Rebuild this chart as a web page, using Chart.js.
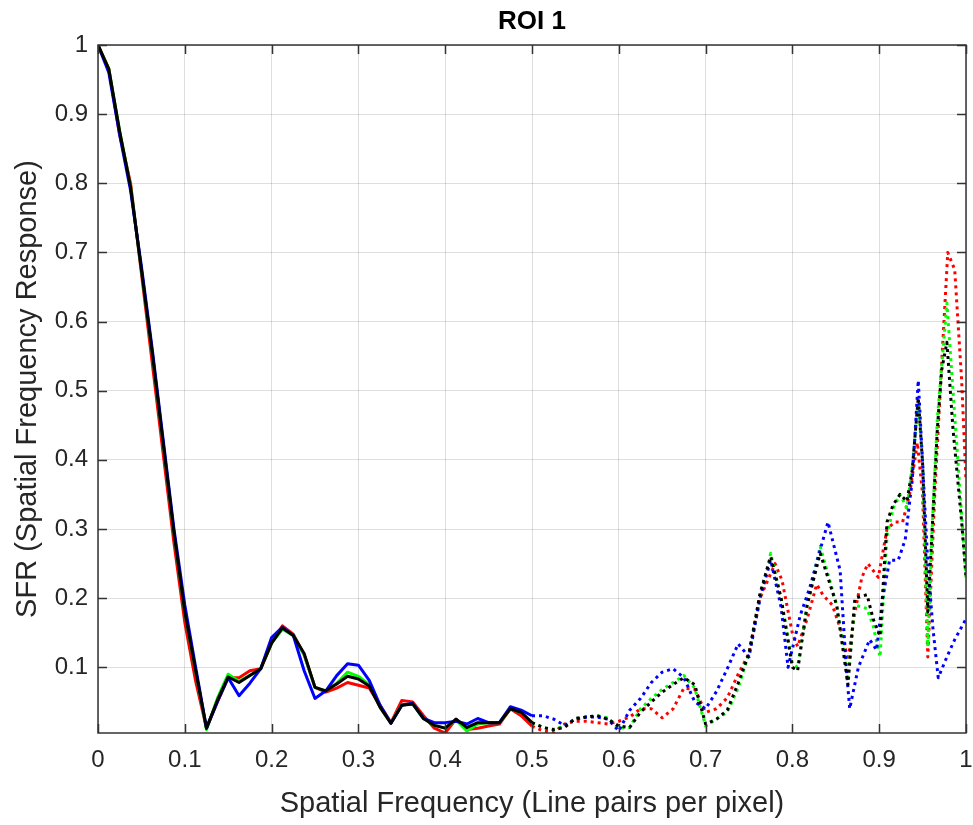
<!DOCTYPE html>
<html lang="en">
<head>
<meta charset="UTF-8">
<title>ROI 1</title>
<script src="https://cdn.jsdelivr.net/npm/chart.js"></script>
<style>
  body { margin: 0; background: #fff; }
  .wrap { width: 973px; height: 825px; }
</style>
</head>
<body>
<div class="wrap"><canvas id="sfrChart" width="973" height="825"></canvas></div>
<script>
// solid part, same frequency grid for all four curves
const solidFreq = [0, 0.0125, 0.025, 0.0375, 0.05, 0.0625, 0.075, 0.0875, 0.1, 0.1125,
  0.125, 0.1375, 0.15, 0.1625, 0.175, 0.1875, 0.2, 0.2125, 0.225, 0.2375,
  0.25, 0.2625, 0.275, 0.2875, 0.3, 0.3125, 0.325, 0.3375, 0.35, 0.3625,
  0.375, 0.3875, 0.4, 0.4125, 0.425, 0.4375, 0.45, 0.4625, 0.475, 0.4875, 0.5];

const blackSolid = [1.0, 0.965, 0.875, 0.795, 0.675, 0.555, 0.425, 0.295, 0.18, 0.095,
  0.012, 0.052, 0.086, 0.078, 0.088, 0.098, 0.135, 0.157, 0.146, 0.12,
  0.071, 0.066, 0.076, 0.087, 0.083, 0.073, 0.042, 0.019, 0.045, 0.047,
  0.026, 0.016, 0.012, 0.025, 0.013, 0.02, 0.02, 0.02, 0.04, 0.035, 0.02];
const greenSolid = [1.0, 0.965, 0.875, 0.795, 0.675, 0.555, 0.425, 0.295, 0.18, 0.095,
  0.01, 0.055, 0.09, 0.08, 0.088, 0.098, 0.135, 0.155, 0.146, 0.118,
  0.071, 0.066, 0.077, 0.093, 0.087, 0.075, 0.042, 0.02, 0.046, 0.047,
  0.026, 0.016, 0.012, 0.024, 0.008, 0.018, 0.02, 0.02, 0.04, 0.035, 0.02];
const blueSolid = [1.0, 0.96, 0.87, 0.79, 0.68, 0.56, 0.43, 0.3, 0.19, 0.1,
  0.012, 0.05, 0.085, 0.059, 0.077, 0.098, 0.143, 0.158, 0.146, 0.095,
  0.055, 0.066, 0.088, 0.105, 0.103, 0.081, 0.045, 0.019, 0.045, 0.048,
  0.026, 0.02, 0.02, 0.022, 0.018, 0.026, 0.02, 0.02, 0.043, 0.038, 0.03];
const redSolid = [1.0, 0.965, 0.87, 0.8, 0.67, 0.54, 0.41, 0.28, 0.165, 0.08,
  0.012, 0.05, 0.085, 0.085, 0.095, 0.098, 0.135, 0.16, 0.148, 0.118,
  0.071, 0.064, 0.07, 0.078, 0.074, 0.07, 0.045, 0.02, 0.052, 0.05,
  0.03, 0.012, 0.005, 0.025, 0.01, 0.012, 0.015, 0.018, 0.04, 0.03, 0.015];

// dotted part, 0.5 .. 0.75
const midFreq = [0.5125, 0.525, 0.5375, 0.55, 0.5625, 0.575, 0.5875, 0.6, 0.6125, 0.625,
  0.6375, 0.65, 0.6625, 0.675, 0.6875, 0.7, 0.7125, 0.725, 0.7375, 0.75];

const blackMid = [0.013, 0.01, 0.013, 0.026, 0.028, 0.03, 0.025, 0.015, 0.013, 0.035,
  0.05, 0.064, 0.075, 0.085, 0.075, 0.018, 0.025, 0.038, 0.077, 0.12];
const greenMid = [0.013, 0.01, 0.015, 0.026, 0.028, 0.03, 0.027, 0.012, 0.013, 0.04,
  0.055, 0.068, 0.078, 0.088, 0.07, 0.015, 0.025, 0.035, 0.07, 0.12];
const blueMid = [0.03, 0.025, 0.016, 0.025, 0.028, 0.028, 0.025, 0.008, 0.038, 0.055,
  0.078, 0.093, 0.098, 0.085, 0.05, 0.04, 0.065, 0.098, 0.134, 0.115];
const redMid = [0.008, 0.006, 0.018, 0.022, 0.022, 0.02, 0.018, 0.022, 0.028, 0.04,
  0.04, 0.027, 0.04, 0.07, 0.068, 0.035, 0.04, 0.056, 0.09, 0.12];

// dotted part, 0.75 .. 1 (curves turn fast here, so each has its own knots)
const blackTailFreq = [0.7627, 0.775, 0.787, 0.8, 0.806, 0.817, 0.832, 0.851, 0.864, 0.872,
  0.886, 0.893, 0.901, 0.909, 0.916, 0.924, 0.932, 0.938, 0.945, 0.95,
  0.956, 0.961, 0.967, 0.972, 0.978, 0.985, 0.995, 1.0];
const blackTail = [0.207, 0.26, 0.2, 0.1, 0.095, 0.19, 0.265, 0.19, 0.075, 0.2,
  0.205, 0.17, 0.145, 0.31, 0.335, 0.35, 0.34, 0.385, 0.49, 0.395,
  0.18, 0.3, 0.445, 0.53, 0.57, 0.445, 0.31, 0.23];

const greenTailFreq = [0.7627, 0.775, 0.787, 0.8, 0.806, 0.817, 0.832, 0.851, 0.864, 0.872,
  0.886, 0.893, 0.901, 0.909, 0.916, 0.924, 0.932, 0.938, 0.945, 0.95,
  0.956, 0.961, 0.967, 0.978, 0.985, 0.995, 1.0];
const greenTail = [0.2, 0.265, 0.2, 0.105, 0.1, 0.19, 0.275, 0.19, 0.085, 0.19,
  0.185, 0.16, 0.115, 0.29, 0.33, 0.35, 0.33, 0.39, 0.48, 0.4,
  0.13, 0.3, 0.46, 0.627, 0.5, 0.32, 0.23];

const blueTailFreq = [0.7627, 0.775, 0.787, 0.795, 0.809, 0.82, 0.832, 0.841, 0.855, 0.862,
  0.866, 0.876, 0.889, 0.897, 0.904, 0.912, 0.922, 0.93, 0.938, 0.945,
  0.95, 0.956, 0.962, 0.968, 0.978, 0.987, 1.0];
const blueTail = [0.2, 0.255, 0.187, 0.1, 0.175, 0.215, 0.27, 0.31, 0.24, 0.1,
  0.04, 0.1, 0.14, 0.125, 0.2, 0.255, 0.255, 0.285, 0.37, 0.515,
  0.395, 0.25, 0.155, 0.085, 0.115, 0.14, 0.17];

const redTailFreq = [0.7627, 0.78, 0.788, 0.8, 0.806, 0.817, 0.828, 0.835, 0.846, 0.857,
  0.864, 0.872, 0.88, 0.887, 0.899, 0.909, 0.918, 0.927, 0.935, 0.944,
  0.95, 0.956, 0.964, 0.972, 0.979, 0.987, 0.995, 1.0];
const redTail = [0.2, 0.25, 0.226, 0.149, 0.13, 0.17, 0.22, 0.205, 0.19, 0.15,
  0.11, 0.18, 0.23, 0.25, 0.23, 0.3, 0.31, 0.31, 0.35, 0.425,
  0.35, 0.115, 0.35, 0.54, 0.7, 0.675, 0.515, 0.37];

const xTicks = [0, 0.1, 0.2, 0.3, 0.4, 0.5, 0.6, 0.7, 0.8, 0.9, 1];
const yTicks = [0.1, 0.2, 0.3, 0.4, 0.5, 0.6, 0.7, 0.8, 0.9, 1];

const FONT = "'Liberation Sans', Arial, Helvetica, sans-serif";
const TEXT = '#262626';

function buildPoints(solid, mid, tailFreq, tail) {
  const pts = solidFreq.map((f, i) => ({ x: f, y: solid[i] }));
  midFreq.forEach((f, i) => pts.push({ x: f, y: mid[i] }));
  tailFreq.forEach((f, i) => pts.push({ x: f, y: tail[i] }));
  return pts;
}

function curve(label, color, pts, order) {
  return {
    label: label,
    data: pts,
    borderColor: color,
    borderWidth: 3,
    pointRadius: 0,
    tension: 0,
    borderJoinStyle: 'round',
    order: order,
    segment: {
      // MATLAB style: solid below Nyquist, dotted above
      borderDash: c => c.p0.parsed.x >= 0.4999 ? [3, 4] : undefined
    }
  };
}

// box, inward tick marks and title
const frame = {
  id: 'frame',
  afterDraw(chart) {
    const ctx = chart.ctx;
    const a = chart.chartArea;
    const xs = chart.scales.x, ys = chart.scales.y;
    ctx.save();
    ctx.strokeStyle = '#333';
    ctx.lineWidth = 1.5;
    ctx.strokeRect(a.left, a.top, a.right - a.left, a.bottom - a.top);
    ctx.beginPath();
    xTicks.forEach(v => {
      const px = Math.round(xs.getPixelForValue(v)) + 0.5;
      ctx.moveTo(px, a.bottom); ctx.lineTo(px, a.bottom - 9);
      ctx.moveTo(px, a.top); ctx.lineTo(px, a.top + 9);
    });
    yTicks.forEach(v => {
      const py = Math.round(ys.getPixelForValue(v)) + 0.5;
      ctx.moveTo(a.left, py); ctx.lineTo(a.left + 9, py);
      ctx.moveTo(a.right, py); ctx.lineTo(a.right - 9, py);
    });
    ctx.stroke();
    ctx.fillStyle = '#000';
    ctx.font = 'bold 26px ' + FONT;
    ctx.textAlign = 'center';
    ctx.textBaseline = 'middle';
    ctx.fillText('ROI 1', (a.left + a.right) / 2, 22);
    ctx.restore();
  }
};

new Chart(document.getElementById('sfrChart'), {
  type: 'line',
  data: {
    datasets: [
      curve('Red', 'rgb(255,0,0)', buildPoints(redSolid, redMid, redTailFreq, redTail), 3),
      curve('Green', 'rgb(0,255,0)', buildPoints(greenSolid, greenMid, greenTailFreq, greenTail), 2),
      curve('Blue', 'rgb(0,0,255)', buildPoints(blueSolid, blueMid, blueTailFreq, blueTail), 1),
      curve('Black', 'rgb(0,0,0)', buildPoints(blackSolid, blackMid, blackTailFreq, blackTail), 0)
    ]
  },
  options: {
    responsive: false,
    animation: false,
    devicePixelRatio: 1,
    layout: { padding: { top: 45, right: 7, left: 0, bottom: 0 } },
    plugins: {
      legend: { display: false },
      tooltip: { enabled: false }
    },
    scales: {
      x: {
        type: 'linear',
        min: 0,
        max: 1,
        afterBuildTicks: s => { s.ticks = xTicks.map(v => ({ value: v })); },
        afterFit: s => { s.height = 92; s.paddingLeft = 0; s.paddingRight = 0; },
        grid: { color: 'rgba(0,0,0,0.13)', drawTicks: false },
        border: { display: false },
        ticks: {
          padding: 13,
          color: TEXT,
          font: { family: FONT, size: 24 },
          maxRotation: 0,
          callback: v => String(+v.toFixed(1))
        },
        title: {
          display: true,
          text: 'Spatial Frequency (Line pairs per pixel)',
          color: TEXT,
          font: { family: FONT, size: 29 },
          padding: { top: 0, bottom: 4 }
        }
      },
      y: {
        min: 0.005,
        max: 1,
        afterBuildTicks: s => { s.ticks = yTicks.map(v => ({ value: v })); },
        afterFit: s => { s.width = 98; s.paddingTop = 0; s.paddingBottom = 0; },
        grid: { color: 'rgba(0,0,0,0.13)', drawTicks: false },
        border: { display: false },
        ticks: {
          padding: 10,
          color: TEXT,
          font: { family: FONT, size: 24 },
          callback: v => String(+v.toFixed(1))
        },
        title: {
          display: true,
          text: 'SFR (Spatial Frequency Response)',
          color: TEXT,
          font: { family: FONT, size: 29 },
          padding: { top: 11, bottom: 0 }
        }
      }
    }
  },
  plugins: [frame]
});
</script>
</body>
</html>
